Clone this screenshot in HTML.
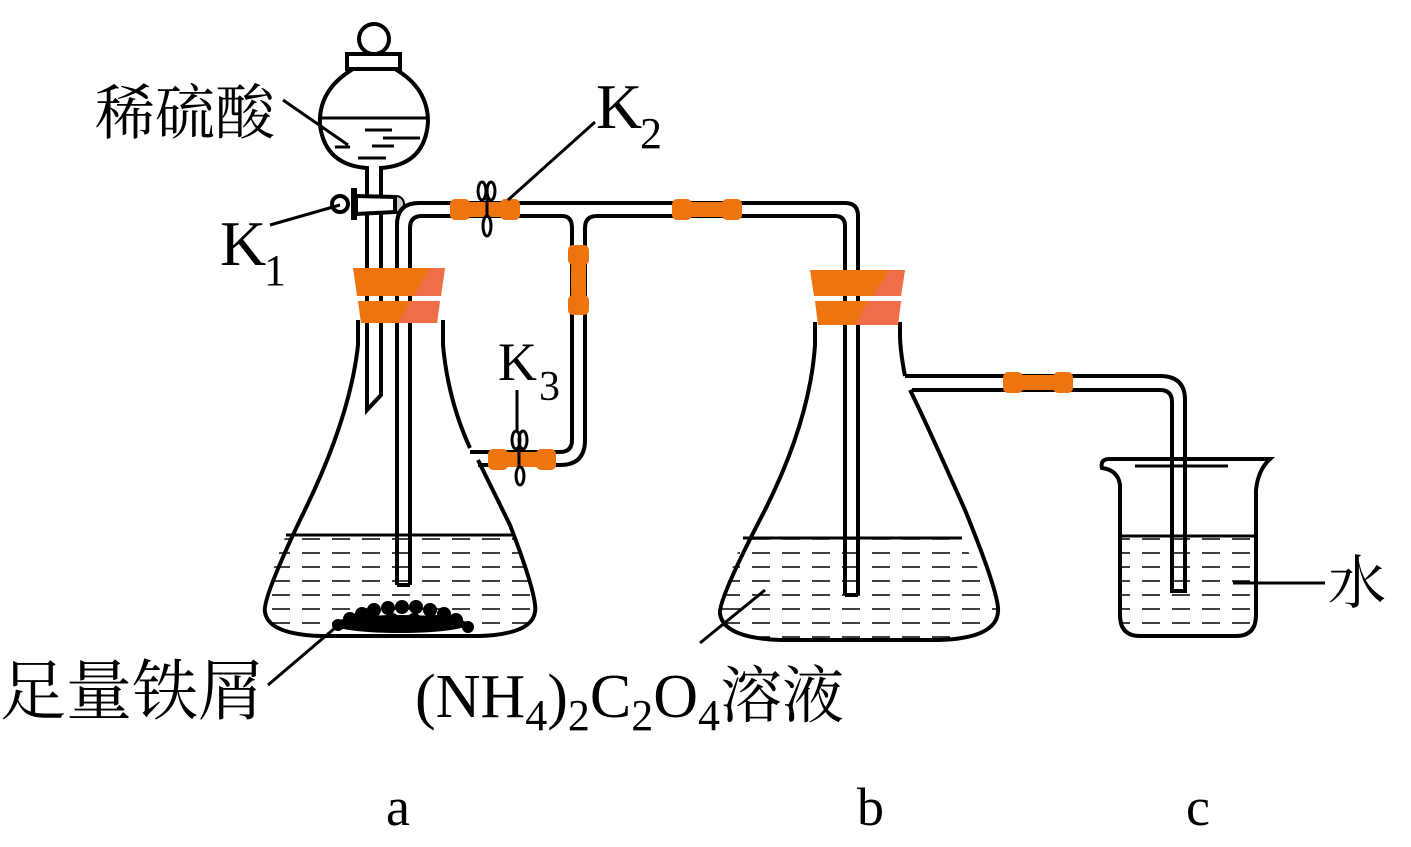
<!DOCTYPE html>
<html><head><meta charset="utf-8"><style>
html,body{margin:0;padding:0;background:#fff;}
svg{display:block;}
text{font-family:"Liberation Serif","Noto Serif CJK SC","Noto Sans CJK SC",serif;fill:#000;}
</style></head><body>
<svg width="1411" height="847" viewBox="0 0 1411 847" xmlns="http://www.w3.org/2000/svg">
<defs>
<pattern id="dash" x="0" y="0" width="30" height="14" patternUnits="userSpaceOnUse">
<line x1="2" y1="7" x2="20" y2="7" stroke="#000" stroke-width="1.6"/>
</pattern>
</defs>
<g fill="none" stroke="#000" stroke-width="4">
<path d="M286,535 L514,535 L530,580 Q540,615 535,620 Q530,632 480,635 L320,635 Q268,632 265,610 Q262,595 286,535 Z" fill="url(#dash)" stroke="none"/>
<line x1="286" y1="535" x2="514" y2="535" stroke-width="3"/>
<path d="M358,320 L358,345 Q350,420 300,520 Q262,600 265,612 Q268,634 320,636 L480,636 Q532,634 535,612 Q538,598 510,525 L478,460"/>
<path d="M470,448 Q448,400 443,345 L443,320"/>
<path d="M367,185 L367,410 L381,395 L381,185"/>
<circle cx="374" cy="39" r="15"/>
<rect x="347" y="54" width="53" height="15" />
<path d="M353,69 Q318,90 320,125 Q325,165 367,168 L367,185 M381,185 L381,168 Q425,165 428,122 Q428,88 395,69"/>
<line x1="321" y1="118" x2="426" y2="118" stroke-width="3"/>
<g stroke-width="3"><line x1="365" y1="130" x2="392" y2="130"/><line x1="383" y1="138" x2="420" y2="138"/><line x1="335" y1="147" x2="350" y2="147"/><line x1="372" y1="146" x2="394" y2="146"/><line x1="358" y1="158" x2="386" y2="158"/></g>
<path d="M356,196 L395,197 L395,212 L356,214 Z" fill="#fff"/>
<circle cx="340" cy="204" r="8" fill="#fff"/>
<line x1="354" y1="188" x2="354" y2="220" stroke-width="6"/>
<path d="M396,196 A8,8 0 0 1 396,212 Z" fill="#ccc" stroke-width="2"/>
<path d="M397,585 L397,225 Q397,203 419,203 L845,203 Q858,203 858,216 L858,595"/>
<path d="M410,585 L410,228 Q410,216 422,216 L562,216 Q572,216 572,228 L572,440 Q572,452 560,452 L470,452"/>
<path d="M585,440 L585,228 Q585,216 597,216 L835,216 Q845,216 845,226 L845,595"/>
<path d="M585,440 Q585,465 560,465 L478,465"/>
<line x1="397" y1="585" x2="410" y2="585"/>
<line x1="845" y1="595" x2="858" y2="595"/>
<path d="M743,538 L960,538 L985,580 Q1002,612 995,625 Q985,638 940,640 L780,640 Q722,638 720,615 Q720,600 743,538 Z" fill="url(#dash)" stroke="none"/>
<line x1="743" y1="538" x2="962" y2="538" stroke-width="3"/>
<path d="M815,322 L815,345 Q810,420 765,510 Q718,600 720,614 Q724,638 780,640 L940,640 Q996,638 998,612 Q1000,596 965,510 Q925,420 910,390"/>
<path d="M905,376 Q900,350 900,335 L900,322"/>
<path d="M905,376 L1160,376 Q1185,376 1185,400 L1185,591 L1172,591 L1172,402 Q1172,390 1160,390 L912,390"/>
<path d="M1120,536 L1255,536 L1255,615 Q1255,636 1235,636 L1140,636 Q1120,636 1120,615 Z" fill="url(#dash)" stroke="none"/>
<line x1="1120" y1="536" x2="1255" y2="536" stroke-width="3"/>
<path d="M1108,459 L1270,459 Q1258,470 1256,490 L1256,615 Q1256,636 1236,636 L1140,636 Q1120,636 1120,615 L1120,485 Q1118,470 1102,468 Q1100,460 1108,459"/>
<line x1="1135" y1="466" x2="1228" y2="466" stroke-width="3"/>
</g>
<g fill="#000">
<ellipse cx="400" cy="624" rx="68" ry="9"/>
<circle cx="338" cy="625" r="6"/><circle cx="350" cy="619" r="7"/><circle cx="362" cy="614" r="7"/><circle cx="374" cy="610" r="7"/><circle cx="388" cy="608" r="7"/><circle cx="402" cy="607" r="7"/><circle cx="416" cy="607" r="7"/><circle cx="430" cy="610" r="7"/><circle cx="444" cy="614" r="7"/><circle cx="456" cy="620" r="7"/><circle cx="468" cy="627" r="6"/>
<circle cx="370" cy="622" r="7"/><circle cx="392" cy="620" r="7"/><circle cx="414" cy="620" r="7"/><circle cx="436" cy="622" r="7"/>
</g>
<g fill="#EE7410">
<path d="M353,268 L445,268 L441,296 L357,296 Z"/>
<path d="M358,301 L440,301 L437,323 L361,323 Z"/>
<path d="M810,270 L905,270 L901,296 L814,296 Z"/>
<path d="M815,301 L901,301 L898,325 L818,325 Z"/>
<!-- horizontal connectors -->
<g><rect x="450" y="199" width="20" height="21" rx="5"/><rect x="500" y="199" width="20" height="21" rx="5"/><rect x="460" y="202" width="50" height="15"/></g>
<g><rect x="672" y="199" width="20" height="21" rx="5"/><rect x="722" y="199" width="20" height="21" rx="5"/><rect x="682" y="202" width="50" height="15"/></g>
<g><rect x="488" y="449" width="20" height="21" rx="5"/><rect x="536" y="449" width="20" height="21" rx="5"/><rect x="498" y="452" width="48" height="15"/></g>
<g><rect x="1003" y="372" width="20" height="21" rx="5"/><rect x="1053" y="372" width="20" height="21" rx="5"/><rect x="1013" y="375" width="50" height="15"/></g>
<g><rect x="568" y="245" width="21" height="20" rx="5"/><rect x="568" y="295" width="21" height="20" rx="5"/><rect x="571" y="255" width="15" height="50"/></g>
</g>
<g fill="#EE6F55" opacity="0.8"><path d="M430,268 L445,268 L441,296 L414,296 Z"/><path d="M410,301 L440,301 L437,323 L398,323 Z"/><path d="M890,270 L905,270 L901,296 L872,296 Z"/><path d="M868,301 L901,301 L898,325 L855,325 Z"/></g>
<g fill="none" stroke="#000" stroke-width="3">
<ellipse cx="482" cy="191" rx="4" ry="9"/><ellipse cx="491" cy="191" rx="4" ry="9"/><ellipse cx="487" cy="226" rx="4" ry="10"/><line x1="487" y1="198" x2="487" y2="216"/>
<ellipse cx="516" cy="440" rx="4" ry="9"/><ellipse cx="523" cy="440" rx="4" ry="9"/><ellipse cx="520" cy="476" rx="4" ry="9"/><line x1="519" y1="448" x2="519" y2="468"/>
</g>
<g stroke="#000" stroke-width="3">
<line x1="283" y1="100" x2="348" y2="145"/>
<line x1="270" y1="225" x2="340" y2="205"/>
<line x1="595" y1="122" x2="508" y2="200"/>
<line x1="517" y1="390" x2="517" y2="432"/>
<line x1="268" y1="685" x2="335" y2="628"/>
<line x1="700" y1="643" x2="765" y2="590"/>
<line x1="1233" y1="583" x2="1325" y2="583"/>
</g>
<text x="95" y="134" font-size="60">稀硫酸</text>
<text x="220" y="265" font-size="64">K</text><text x="264" y="285" font-size="44">1</text>
<text x="596" y="128" font-size="64">K</text><text x="640" y="148" font-size="44">2</text>
<text x="498" y="380" font-size="54">K</text><text x="539" y="400" font-size="42">3</text>
<text x="0" y="714" font-size="66">足量铁屑</text>
<text x="415" y="717" font-size="62">(NH<tspan font-size="44" dy="13">4</tspan><tspan dy="-13">)</tspan><tspan font-size="44" dy="13">2</tspan><tspan dy="-13">C</tspan><tspan font-size="44" dy="13">2</tspan><tspan dy="-13">O</tspan><tspan font-size="44" dy="13">4</tspan><tspan dy="-13">溶液</tspan></text>
<text x="1328" y="603" font-size="58">水</text>
<text x="386" y="825" font-size="54">a</text>
<text x="857" y="825" font-size="54">b</text>
<text x="1186" y="825" font-size="54">c</text>
</svg>
</body></html>
